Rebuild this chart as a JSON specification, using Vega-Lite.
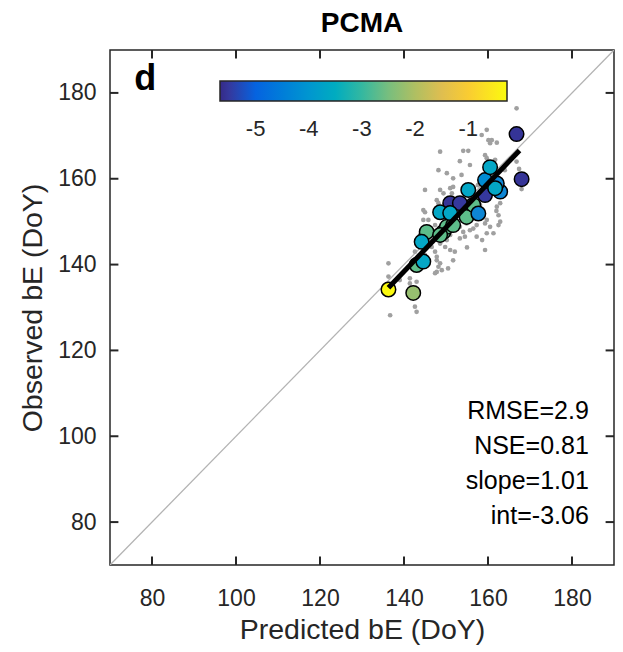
{
  "$schema": "https://vega.github.io/schema/vega-lite/v6.json",
  "width": 504,
  "height": 515,
  "autosize": {"type": "none"},
  "padding": {"left": 110, "top": 50, "right": 9, "bottom": 87},
  "background": "white",
  "config": {
    "font": "Liberation Sans",
    "view": {"stroke": "#262626", "strokeWidth": 1.5},
    "axis": {"grid": false, "domain": false, "ticks": false, "tickSize": 0, "labelColor": "#262626", "titleColor": "#262626", "labelFont": "Liberation Sans", "titleFont": "Liberation Sans", "labelFontSize": 23, "titleFontSize": 28.5, "titleFontWeight": "normal"}
  },
  "title": {"text": "PCMA", "fontSize": 28, "fontWeight": "bold", "color": "#000000", "offset": 11, "anchor": "middle"},
  "datasets": {
    "ticks": [{"t":80},{"t":100},{"t":120},{"t":140},{"t":160},{"t":180}],
    "gray": [
      {"x":166.8,"y":176.4},{"x":159.7,"y":171.4},{"x":158.5,"y":170.2},{"x":160.1,"y":169.0},{"x":160.9,"y":169.0},
      {"x":160.5,"y":168.3},{"x":162.1,"y":168.4},{"x":148.6,"y":166.3},{"x":154.1,"y":166.5},{"x":155.3,"y":166.5},
      {"x":159.3,"y":165.5},{"x":159.7,"y":164.8},{"x":153.3,"y":164.1},{"x":155.7,"y":163.2},{"x":148.2,"y":162.0},
      {"x":150.2,"y":161.3},{"x":151.7,"y":160.1},{"x":153.7,"y":160.9},{"x":166.8,"y":164.0},{"x":167.4,"y":162.3},
      {"x":145.0,"y":157.4},{"x":148.6,"y":157.4},{"x":149.4,"y":156.6},{"x":151.0,"y":157.8},{"x":151.7,"y":158.1},
      {"x":151.4,"y":156.6},{"x":168.0,"y":157.6},{"x":163.6,"y":156.2},{"x":147.8,"y":155.0},{"x":148.2,"y":154.3},
      {"x":144.6,"y":152.7},{"x":162.1,"y":153.5},{"x":162.9,"y":154.3},{"x":162.5,"y":151.5},{"x":145.0,"y":152.2},
      {"x":159.7,"y":150.4},{"x":159.3,"y":149.6},{"x":162.9,"y":150.0},{"x":162.5,"y":149.2},{"x":160.5,"y":148.8},
      {"x":157.3,"y":149.2},{"x":156.5,"y":148.4},{"x":154.9,"y":149.6},{"x":155.7,"y":148.0},{"x":154.1,"y":147.6},
      {"x":153.3,"y":148.8},{"x":144.6,"y":150.4},{"x":145.8,"y":150.4},{"x":144.2,"y":147.6},{"x":143.8,"y":146.9},
      {"x":161.3,"y":147.3},{"x":159.7,"y":147.3},{"x":157.3,"y":146.5},{"x":154.5,"y":146.5},{"x":153.3,"y":146.1},
      {"x":151.0,"y":146.9},{"x":150.2,"y":145.7},{"x":148.6,"y":144.9},{"x":149.8,"y":144.1},{"x":146.6,"y":144.1},
      {"x":147.4,"y":143.0},{"x":151.0,"y":143.4},{"x":152.1,"y":143.0},{"x":159.3,"y":143.4},{"x":147.8,"y":141.0},
      {"x":148.6,"y":140.3},{"x":148.2,"y":139.5},{"x":149.0,"y":138.7},{"x":147.4,"y":138.0},{"x":150.5,"y":139.1},
      {"x":136.3,"y":140.3},{"x":136.3,"y":137.2},{"x":141.4,"y":135.6},{"x":142.6,"y":130.2},{"x":143.0,"y":129.0},
      {"x":136.7,"y":128.2},{"x":152.1,"y":155.0},{"x":155.7,"y":156.2},{"x":158.1,"y":153.9},{"x":149.8,"y":151.5},
      {"x":146.2,"y":145.7},{"x":147.4,"y":149.2},{"x":153.3,"y":151.5},{"x":160.5,"y":160.9},{"x":157.6,"y":158.5},
      {"x":162.9,"y":159.7},{"x":164.0,"y":162.0},{"x":161.7,"y":164.4},{"x":145.0,"y":142.2},{"x":143.3,"y":138.7},
      {"x":139.0,"y":136.4},{"x":142.6,"y":143.0},{"x":151.7,"y":141.0},{"x":147.8,"y":141.8},{"x":147.8,"y":138.3},
      {"x":141.4,"y":136.8},{"x":143.0,"y":136.0},{"x":162.0,"y":152.5},{"x":158.6,"y":145.7},{"x":155.0,"y":144.0}
    ],
    "sites": [
      {"x":145.4,"y":147.6,"v":-2.7},{"x":149.4,"y":147.6,"v":-2.7},{"x":150.2,"y":148.8,"v":-2.7},{"x":148.6,"y":146.9,"v":-2.7},
      {"x":151.7,"y":149.2,"v":-2.7},{"x":154.9,"y":151.1,"v":-2.7},{"x":156.5,"y":153.9,"v":-2.7},
      {"x":143.0,"y":139.9,"v":-2.7},{"x":144.6,"y":140.7,"v":-3.65},{"x":144.2,"y":145.3,"v":-3.65},
      {"x":151.0,"y":154.3,"v":-5.55},{"x":153.3,"y":154.3,"v":-5.5},{"x":159.3,"y":156.2,"v":-5.5},
      {"x":157.7,"y":151.9,"v":-4.3},{"x":162.9,"y":157.0,"v":-4.3},{"x":162.1,"y":158.9,"v":-4.3},{"x":159.3,"y":159.7,"v":-4.2},
      {"x":161.7,"y":157.8,"v":-3.65},{"x":148.6,"y":152.2,"v":-3.65},{"x":151.0,"y":152.0,"v":-3.65},
      {"x":155.3,"y":157.4,"v":-3.65},{"x":160.5,"y":162.7,"v":-3.65},
      {"x":166.8,"y":170.4,"v":-5.55},{"x":168.0,"y":159.9,"v":-5.55},
      {"x":142.2,"y":133.4,"v":-2.24},{"x":136.3,"y":134.2,"v":-0.3}
    ],
    "fit": [{"x":136.3,"y":134.6},{"x":167.5,"y":166.6}],
    "diag": [{"x":70,"y":70},{"x":190,"y":190}],
    "stats": [
      {"label":"RMSE=2.9","y":105.9},{"label":"NSE=0.81","y":97.7},{"label":"slope=1.01","y":89.5},{"label":"int=-3.06","y":81.4}
    ]
  },
  "layer": [
    {
      "data": {"name": "diag"},
      "mark": {"type": "line", "color": "#b3b3b3", "strokeWidth": 1.3, "clip": true},
      "encoding": {
        "x": {"field": "x", "type": "quantitative", "scale": {"domain": [70,190], "nice": false, "zero": false},
              "axis": {"orient": "bottom", "values": [80,100,120,140,160,180], "title": "Predicted bE (DoY)", "labelPadding": 22, "titlePadding": 5}},
        "y": {"field": "y", "type": "quantitative", "scale": {"domain": [70,190], "nice": false, "zero": false},
              "axis": {"orient": "left", "values": [80,100,120,140,160,180], "title": "Observed bE (DoY)", "labelPadding": 14, "titlePadding": 10}}
      }
    },
    {
      "data": {"name": "ticks"},
      "mark": {"type": "rule", "color": "#262626", "strokeWidth": 2},
      "encoding": {"y": {"field": "t", "type": "quantitative"}, "x": {"datum": 70, "type": "quantitative"}, "x2": {"datum": 72}}
    },
    {
      "data": {"name": "ticks"},
      "mark": {"type": "rule", "color": "#262626", "strokeWidth": 2},
      "encoding": {"y": {"field": "t", "type": "quantitative"}, "x": {"datum": 190, "type": "quantitative"}, "x2": {"datum": 188}}
    },
    {
      "data": {"name": "ticks"},
      "mark": {"type": "rule", "color": "#262626", "strokeWidth": 2},
      "encoding": {"x": {"field": "t", "type": "quantitative"}, "y": {"datum": 70, "type": "quantitative"}, "y2": {"datum": 72}}
    },
    {
      "data": {"name": "ticks"},
      "mark": {"type": "rule", "color": "#262626", "strokeWidth": 2},
      "encoding": {"x": {"field": "t", "type": "quantitative"}, "y": {"datum": 190, "type": "quantitative"}, "y2": {"datum": 188}}
    },
    {
      "data": {"name": "gray"},
      "mark": {"type": "circle", "color": "#a0a0a0", "opacity": 1, "size": 22},
      "encoding": {
        "x": {"field": "x", "type": "quantitative"},
        "y": {"field": "y", "type": "quantitative"}
      }
    },
    {
      "data": {"name": "sites"},
      "mark": {"type": "circle", "opacity": 1, "size": 210, "stroke": "#000000", "strokeWidth": 1.5},
      "encoding": {
        "x": {"field": "x", "type": "quantitative"},
        "y": {"field": "y", "type": "quantitative"},
        "color": {"field": "v", "type": "quantitative",
          "scale": {"domain": [-5.67,-4.995,-4.32,-3.645,-2.97,-2.295,-1.62,-0.945,-0.27],
                    "range": ["#352A87","#0363E1","#1485D4","#06A7C6","#38B99E","#92BF73","#D9BA56","#FCCE2E","#F9FB0E"]},
          "legend": {"orient": "none", "direction": "horizontal", "legendX": 110, "legendY": 31, "padding": 0,
                     "title": null, "gradientLength": 287, "gradientThickness": 20,
                     "gradientStrokeColor": "#262626", "gradientStrokeWidth": 1.5,
                     "values": [-5,-4,-3,-2,-1], "labelExpr": "'' + datum.value", "labelFlush": false, "labelOverlap": false,
                     "labelFontSize": 22, "labelColor": "#262626", "labelOffset": 18}}
      }
    },
    {
      "data": {"name": "fit"},
      "mark": {"type": "line", "color": "#000000", "strokeWidth": 5, "strokeCap": "butt"},
      "encoding": {
        "x": {"field": "x", "type": "quantitative"},
        "y": {"field": "y", "type": "quantitative"}
      }
    },
    {
      "data": {"name": "stats"},
      "mark": {"type": "text", "align": "right", "baseline": "middle", "fontSize": 25, "color": "#000000"},
      "encoding": {
        "x": {"datum": 184.0, "type": "quantitative"},
        "y": {"field": "y", "type": "quantitative"},
        "text": {"field": "label"}
      }
    },
    {
      "data": {"values": [{"label": "d"}]},
      "mark": {"type": "text", "align": "left", "baseline": "middle", "fontSize": 36, "fontWeight": "bold", "color": "#000000"},
      "encoding": {
        "x": {"datum": 75.8, "type": "quantitative"},
        "y": {"datum": 183.2, "type": "quantitative"},
        "text": {"field": "label"}
      }
    }
  ]
}
